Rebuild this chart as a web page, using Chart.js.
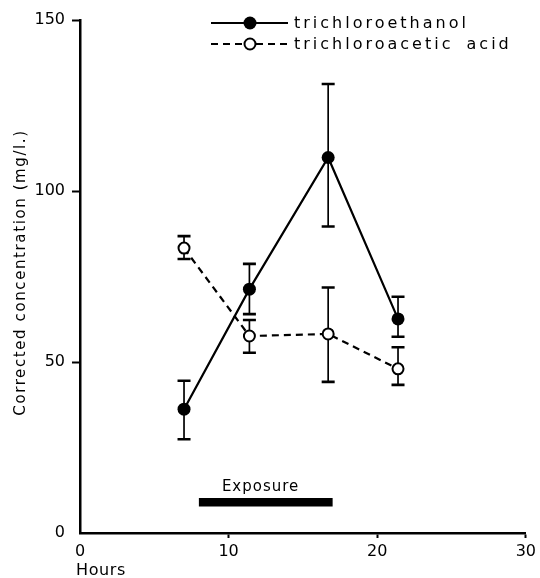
<!DOCTYPE html>
<html>
<head>
<meta charset="utf-8">
<script src="https://cdn.jsdelivr.net/npm/chart.js@4"></script>
<style>
  html, body { margin: 0; padding: 0; background: #fff; }
</style>
</head>
<body>
<canvas id="c" width="540" height="578"></canvas>
<script>
// ---- data ----
const hours = [7.0, 11.4, 16.7, 21.4];
const tce = [36.2, 71.3, 109.8, 62.6];        // trichloroethanol
const tceHigh = [44.5, 78.7, 131.3, 69.1];
const tceLow = [27.4, 64.0, 89.6, 57.4];
const tca = [83.3, 57.6, 58.2, 48.0];         // trichloroacetic acid
const tcaHigh = [86.8, 62.3, 71.8, 54.3];
const tcaLow = [80.1, 52.7, 44.2, 43.3];
const exposureHours = [8, 17];
const exposureLevel = 9;
const xRange = [0, 30];
const xStep = 10;
const yRange = [0, 150];
const yStep = 50;
const seriesNames = ['trichloroethanol', 'trichloroacetic acid'];
const xTitle = 'Hours';
const yTitle = 'Corrected concentration (mg/l.)';
const exposureLabel = 'Exposure';

const FAMILY = 'DejaVu Sans';

function pts(xs, ys) { return xs.map((x, i) => ({ x: x, y: ys[i] })); }

const errorBars = {
  id: 'errorBars',
  beforeDatasetsDraw(chart) {
    const { ctx, scales: { x, y } } = chart;
    const sets = [[tceHigh, tceLow], [tcaHigh, tcaLow]];
    ctx.save();
    ctx.strokeStyle = '#000';
    sets.forEach(([hi, lo]) => {
      hours.forEach((h, i) => {
        const px = x.getPixelForValue(h);
        const yh = y.getPixelForValue(hi[i]);
        const yl = y.getPixelForValue(lo[i]);
        ctx.lineWidth = 1.7;
        ctx.beginPath(); ctx.moveTo(px, yh); ctx.lineTo(px, yl); ctx.stroke();
        ctx.lineWidth = 2.6;
        ctx.beginPath();
        ctx.moveTo(px - 6.5, yh); ctx.lineTo(px + 6.5, yh);
        ctx.moveTo(px - 6.5, yl); ctx.lineTo(px + 6.5, yl);
        ctx.stroke();
      });
    });
    ctx.restore();
  }
};

const texts = {
  id: 'texts',
  afterDraw(chart) {
    const { ctx, scales: { x, y } } = chart;
    ctx.save();
    ctx.fillStyle = '#000';
    ctx.strokeStyle = '#000';

    // legend
    const legY = [23, 44];
    const lx0 = 211, lx1 = 288, lmx = 250;
    ctx.lineWidth = 2.2;
    ctx.setLineDash([]);
    ctx.beginPath(); ctx.moveTo(lx0, legY[0]); ctx.lineTo(lx1, legY[0]); ctx.stroke();
    ctx.beginPath(); ctx.arc(lmx, legY[0], 6.5, 0, Math.PI * 2); ctx.fill();
    ctx.setLineDash([7, 5]);
    ctx.beginPath(); ctx.moveTo(lx0, legY[1]); ctx.lineTo(lmx - 6, legY[1]); ctx.stroke();
    ctx.beginPath(); ctx.moveTo(lmx + 6, legY[1]); ctx.lineTo(lx1, legY[1]); ctx.stroke();
    ctx.setLineDash([]);
    ctx.lineWidth = 2;
    ctx.beginPath(); ctx.arc(lmx, legY[1], 5.5, 0, Math.PI * 2);
    ctx.fillStyle = '#fff'; ctx.fill(); ctx.stroke();
    ctx.fillStyle = '#000';
    ctx.font = '16px "' + FAMILY + '"';
    ctx.letterSpacing = '3px';
    ctx.wordSpacing = '5px';
    ctx.textAlign = 'left';
    ctx.textBaseline = 'middle';
    ctx.fillText(seriesNames[0], 294, legY[0] + 1);
    ctx.fillText(seriesNames[1], 294, legY[1] + 1);
    ctx.wordSpacing = '0px';

    // exposure label
    ctx.font = '15px "' + FAMILY + '"';
    ctx.letterSpacing = '1px';
    ctx.textBaseline = 'alphabetic';
    ctx.fillText(exposureLabel, x.getPixelForValue(exposureHours[0]) + 23,
                 y.getPixelForValue(exposureLevel) - 11.5);

    // x title
    ctx.font = '16px "' + FAMILY + '"';
    ctx.letterSpacing = '0.6px';
    ctx.textBaseline = 'middle';
    ctx.fillText(xTitle, 76, 571);

    // y title
    ctx.translate(21, (chart.chartArea.top + chart.chartArea.bottom) / 2 - 4);
    ctx.rotate(-Math.PI / 2);
    ctx.font = '15px "' + FAMILY + '"';
    ctx.letterSpacing = '1.6px';
    ctx.textAlign = 'center';
    ctx.fillText(yTitle, 0, 0);
    ctx.restore();
  }
};

new Chart(document.getElementById('c'), {
  type: 'scatter',
  data: {
    datasets: [
      {
        label: seriesNames[0],
        data: pts(hours, tce),
        showLine: true,
        borderColor: '#000',
        borderWidth: 2.2,
        pointRadius: 6.5,
        pointBackgroundColor: '#000',
        pointBorderColor: '#000',
        pointBorderWidth: 0,
        tension: 0,
        order: 2
      },
      {
        label: seriesNames[1],
        data: pts(hours, tca),
        showLine: true,
        borderColor: '#000',
        borderWidth: 2.2,
        borderDash: [7, 5],
        pointRadius: 5.5,
        pointBackgroundColor: '#fff',
        pointBorderColor: '#000',
        pointBorderWidth: 2,
        tension: 0,
        order: 1
      },
      {
        label: exposureLabel,
        data: pts(exposureHours, [exposureLevel, exposureLevel]),
        showLine: true,
        borderColor: '#000',
        borderWidth: 8.5,
        borderCapStyle: 'butt',
        pointRadius: 0,
        order: 3
      }
    ]
  },
  options: {
    responsive: false,
    animation: false,
    devicePixelRatio: 1,
    layout: { padding: { top: 20, right: 14, left: 0, bottom: 0 } },
    plugins: { legend: { display: false }, tooltip: { enabled: false } },
    scales: {
      x: {
        type: 'linear',
        min: xRange[0],
        max: xRange[1],
        afterFit: (s) => { s.height = 45; },
        ticks: { stepSize: xStep, color: '#000', font: { family: FAMILY, size: 16 }, padding: 4, maxRotation: 0 },
        grid: { drawOnChartArea: false, tickLength: 5,
                tickColor: ['rgba(0,0,0,0)', '#000', '#000', '#000'], tickWidth: 2 },
        border: { display: true, color: '#000', width: 2.5 }
      },
      y: {
        type: 'linear',
        min: yRange[0],
        max: yRange[1],
        afterFit: (s) => { s.width = 80; },
        ticks: { stepSize: yStep, color: '#000', font: { family: FAMILY, size: 16 }, padding: 7 },
        grid: { drawOnChartArea: false, tickLength: 8,
                tickColor: ['rgba(0,0,0,0)', '#000', '#000', '#000'], tickWidth: 2 },
        border: { display: true, color: '#000', width: 2.5 }
      }
    }
  },
  plugins: [errorBars, texts]
});
</script>
</body>
</html>
